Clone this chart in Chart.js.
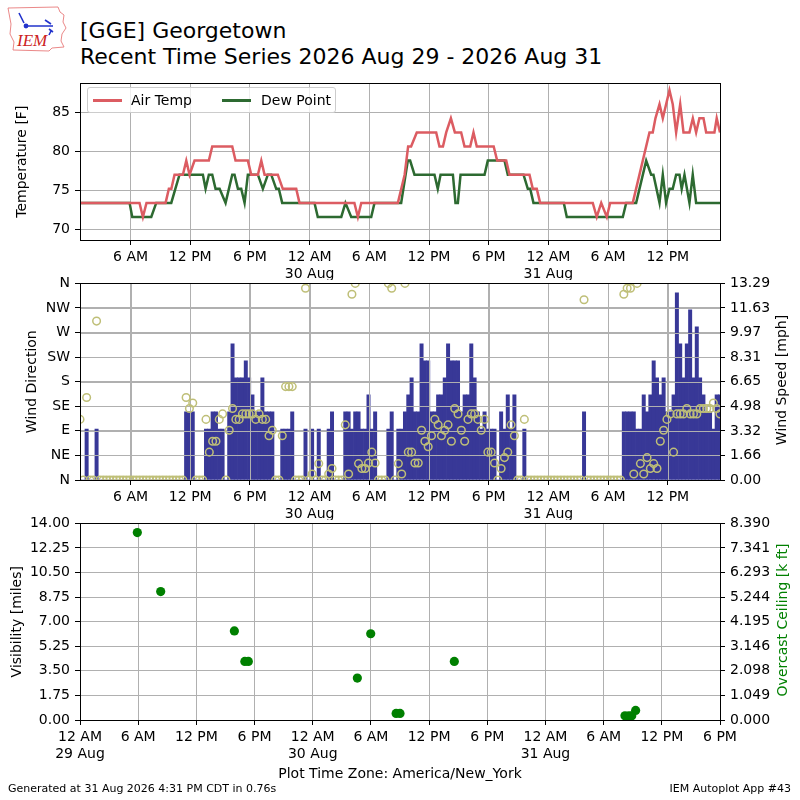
<!DOCTYPE html>
<html>
<head>
<meta charset="utf-8">
<title>[GGE] Georgetown - Recent Time Series</title>
<script src="https://cdn.jsdelivr.net/npm/chart.js@4.4.1/dist/chart.umd.min.js"></script>
<style>
  html, body { margin: 0; padding: 0; background: #fff; }
  #page { position: relative; width: 800px; height: 800px; overflow: hidden;
          font-family: 'DejaVu Sans', sans-serif; color: #000; }
  .panel { position: absolute; left: 0; width: 800px; }
  #title { position: absolute; left: 80px; top: 18px; font-size: 22px; line-height: 26px; white-space: nowrap; }
  #legend { position: absolute; left: 87px; top: 87px; width: 249px; height: 26px; box-sizing: border-box;
            border: 1px solid #cccccc; border-radius: 3px; background: rgba(255,255,255,0.8); font-size: 14px; }
  #legend .ln { position: absolute; top: 11px; width: 29px; height: 3px; }
  #legend .tx { position: absolute; top: 0; line-height: 24px; white-space: nowrap; }
  .rtitle { position: absolute; font-size: 14px; white-space: nowrap; transform: translate(-50%, -50%) rotate(-90deg); }
  .foot { position: absolute; top: 782px; font-size: 11px; line-height: 14px; white-space: nowrap; }
</style>
</head>
<body>
<div id="page">
  <svg style="position:absolute;left:5px;top:4px" width="64" height="50" viewBox="0 0 64 50">
    <path d="M3 4 L53 3 L55 8 L59 11 L58 18 L61 24 L57 30 L56 37 L59 43 L47 44 L44 47 L8 46 L9 38 L5 30 L6 20 Z"
          fill="none" stroke="#e87a7a" stroke-width="0.9"/>
    <path d="M14 9 L19 19 M19 22 L48 22 M40 16 L46 20 M44 25 L48 28 M46 27 L44 31" stroke="#2233cc" stroke-width="1.6" fill="none"/>
    <circle cx="21" cy="22" r="2.4" fill="#2233cc"/>
    <text x="12" y="42" font-family="Liberation Serif" font-style="italic" font-size="17" fill="#cc2222">IEM</text>
  </svg>
  <div id="title">[GGE] Georgetown<br>Recent Time Series 2026 Aug 29 - 2026 Aug 31</div>

  <div class="panel" style="top:70px;height:210px"><canvas id="tempChart"></canvas></div>
  <div class="panel" style="top:270px;height:250px"><canvas id="windChart"></canvas></div>
  <div class="panel" style="top:510px;height:290px"><canvas id="ceilChart"></canvas></div>

  <div id="legend">
    <span class="ln" style="left:5px;background:#dc5c62"></span><span class="tx" style="left:43px">Air Temp</span>
    <span class="ln" style="left:134px;background:#2d6a31"></span><span class="tx" style="left:173px">Dew Point</span>
  </div>
  <div class="rtitle" style="left:781px;top:380px">Wind Speed [mph]</div>
  <div class="rtitle" style="left:782px;top:620px;color:#008000">Overcast Ceiling [k ft]</div>

  <div class="foot" style="left:8px">Generated at 31 Aug 2026 4:31 PM CDT in 0.76s</div>
  <div class="foot" style="right:9px">IEM Autoplot App #43</div>
</div>

<script>
// Hours since 12 AM 29 Aug (America/New_York)

// Air temperature line vertices [F]
const tempHours = [
  0.92, 6.9, 7.24, 7.6, 9.52, 9.85, 10.1, 10.42, 11.26, 11.6, 11.93, 12.43, 13.87, 14.21, 16.22, 16.55, 17.79, 18.13, 18.8, 19.14, 19.47, 20.8, 21.3, 22.65, 22.98,
  28.5, 28.85, 29.19, 32.87, 33.55, 33.9, 34.2, 34.77, 36.72, 37.05, 37.4, 37.73, 38.2, 38.6, 39.23, 39.57, 40.14, 40.47, 40.8, 42.5, 42.85, 43.76, 44.09, 46.1, 46.43, 46.83, 47.17,
  52.46, 52.86, 53.31, 53.87, 54.21, 56.48, 58.16, 58.49, 58.76, 59.17, 59.5, 60.17, 60.5, 60.84, 61.25, 61.58, 62.18, 62.52, 62.85, 63.18, 63.59, 63.86, 64.69, 64.92, 65.25,
];
const tempF = [
  73.4, 73.4, 71.6, 73.4, 73.4, 75.2, 75.2, 77, 77, 78.8, 77, 78.8, 78.8, 80.6, 80.6, 78.8, 78.8, 77, 77, 78.8, 77, 77, 75.2, 75.2, 73.4,
  73.4, 71.6, 73.4, 73.4, 77, 80.6, 80.6, 82.4, 82.4, 80.6, 80.6, 82.4, 84.2, 82.4, 82.4, 80.6, 80.6, 82.4, 80.6, 80.6, 78.8, 78.8, 77, 77, 75.2, 75.2, 73.4,
  73.4, 71.6, 73.4, 71.6, 73.4, 73.4, 82.4, 82.4, 84.2, 86, 84.2, 87.8, 86, 82.4, 86, 82.4, 82.4, 84.2, 82.4, 84.2, 84.2, 82.4, 82.4, 84.2, 82.4,
];

// Dew point line vertices [F]
const dewHours = [
  0.92, 5.9, 6.17, 8.08, 8.58, 10.09, 10.5, 10.92, 13.27, 13.54, 13.87, 14.21, 14.54, 14.95, 15.55, 16.22, 16.45, 16.79, 17.12, 17.46, 17.79, 18.8, 19.3, 19.8, 20.14, 20.64, 20.9, 21.24,
  24.49, 24.82, 27.18, 27.6, 28.18, 30.19, 30.52, 33.2, 33.87, 34.1, 34.54, 36.55, 36.88, 37.16, 38.4, 38.66, 38.9, 39.17, 41.58, 41.91, 43.59, 43.92, 45.5, 45.93, 46.17, 46.5,
  49.55, 49.85, 55.48, 55.82, 56.82, 57.83, 58.33, 58.56, 59.17, 59.5, 59.83, 60.17, 60.5, 60.84, 61.18, 61.4, 61.68, 62.18, 62.51, 62.85, 65.25,
];
const dewF = [
  73.4, 73.4, 71.6, 71.6, 73.4, 73.4, 75.2, 77, 77, 75.2, 77, 77, 75.2, 75.2, 73.4, 77, 77, 75.2, 75.2, 73.4, 77, 77, 75.2, 77, 77, 75.2, 75.2, 73.4,
  73.4, 71.6, 71.6, 73.4, 71.6, 71.6, 73.4, 73.4, 78.8, 78.8, 77, 77, 75.2, 77, 77, 73.4, 73.4, 77, 77, 78.8, 78.8, 77, 77, 75.2, 75.2, 73.4,
  73.4, 71.6, 71.6, 73.4, 73.4, 78.8, 77, 77, 73.4, 77, 73.4, 75.2, 75.2, 77, 77, 75.2, 77, 73.4, 77, 73.4, 73.4,
];

// Wind obs every 20 minutes starting 00:55 29 Aug
const OBS_START = 0.9167;
const OBS_STEP = 1 / 3;
const windSpeedMph = [
  0, 0, 3.45, 0, 0, 3.45, 0, 0, 0, 0,
  0, 0, 0, 0, 0, 0, 0, 0, 0, 0,
  0, 0, 0, 0, 0, 0, 0, 0, 0, 0,
  0, 0, 4.6, 4.6, 4.6, 0, 0, 0, 3.45, 3.45,
  4.6, 4.6, 3.45, 3.45, 0, 4.6, 9.21, 6.9, 6.9, 6.9,
  8.06, 6.9, 5.75, 4.6, 4.6, 6.9, 4.6, 4.6, 4.6, 0,
  0, 3.45, 3.45, 3.45, 4.6, 0, 0, 0, 3.45, 0,
  3.45, 0, 3.45, 0, 0, 3.45, 4.6, 0, 0, 0,
  4.6, 4.6, 3.45, 4.6, 4.6, 3.45, 3.45, 5.75, 3.45, 4.6,
  0, 0, 0, 3.45, 4.6, 0, 3.45, 3.45, 4.6, 5.75,
  6.9, 4.6, 4.6, 9.21, 8.06, 8.06, 4.6, 4.6, 5.75, 5.75,
  6.9, 9.21, 8.06, 8.06, 8.06, 4.6, 5.75, 5.75, 9.21, 6.9,
  4.6, 3.45, 4.6, 3.45, 3.45, 3.45, 0, 4.6, 3.45, 5.75,
  3.45, 5.75, 0, 0, 3.45, 0, 0, 0, 0, 0,
  0, 0, 0, 0, 0, 0, 0, 0, 0, 0,
  0, 0, 4.6, 0, 0, 0, 0, 0, 0, 0,
  0, 0, 0, 0, 4.6, 4.6, 4.6, 4.6, 3.45, 3.45,
  5.75, 4.6, 5.75, 8.06, 6.9, 5.75, 6.9, 4.6, 4.6, 5.75,
  12.66, 9.21, 6.9, 9.21, 11.51, 6.9, 10.36, 6.9, 5.75, 4.6,
  4.6, 3.45, 5.75, 5.75,
];
const windDirDeg = [
  111, 0, 151, 0, 0, 291, 0, 0, 0, 0,
  0, 0, 0, 0, 0, 0, 0, 0, 0, 0,
  0, 0, 0, 0, 0, 0, 0, 0, 0, 0,
  0, 0, 151, 131, 141, 0, 0, 0, 111, 51,
  71, 71, 111, 121, 0, 91, 131, 111, 111, 121,
  121, 121, 121, 111, 121, 111, 111, 81, 91, 0,
  0, 81, 171, 171, 171, 0, 0, 0, 351, 0,
  11, 0, 30, 0, 0, 11, 21, 0, 0, 0,
  101, 11, 340, 360, 30, 21, 21, 31, 51, 31,
  0, 0, 0, 360, 351, 0, 30, 11, 360, 51,
  51, 31, 31, 91, 71, 61, 81, 111, 101, 81,
  91, 101, 71, 131, 121, 91, 71, 111, 121, 121,
  111, 91, 111, 51, 51, 31, 0, 21, 41, 51,
  101, 81, 0, 0, 111, 0, 0, 0, 0, 0,
  0, 0, 0, 0, 0, 0, 0, 0, 0, 0,
  0, 0, 330, 0, 0, 0, 0, 0, 0, 0,
  0, 0, 0, 0, 340, 351, 351, 11, 360, 30,
  11, 41, 21, 30, 21, 71, 91, 111, 121, 51,
  121, 121, 121, 131, 121, 121, 121, 131, 131, 131,
  131, 141, 131, 121,
];

// Overcast ceiling reports [k ft]
const ceilHours = [5.91, 8.32, 15.92, 17.0, 17.36, 28.6, 29.98, 32.6, 33.0, 38.6, 56.2, 56.6, 56.9, 57.3];
const ceilKft = [8.0, 5.48, 3.8, 2.5, 2.5, 1.79, 3.68, 0.28, 0.28, 2.5, 0.18, 0.18, 0.18, 0.41];

// Tick positions and labels
const timeTicksTop = [6, 12, 18, 24, 30, 36, 42, 48, 54, 60];
const timeTicksBottom = [0, 6, 12, 18, 24, 30, 36, 42, 48, 54, 60, 66];
const tempTicks = [70, 75, 80, 85];
const dirTickLabels = ['N', 'NE', 'E', 'SE', 'S', 'SW', 'W', 'NW', 'N'];
const speedTickLabels = ['0.00', '1.66', '3.32', '4.98', '6.65', '8.31', '9.97', '11.63', '13.29'];
const visTickLabels = ['0.00', '1.75', '3.50', '5.25', '7.00', '8.75', '10.50', '12.25', '14.00'];
const ceilTickLabels = ['0.000', '1.049', '2.098', '3.146', '4.195', '5.244', '6.293', '7.341', '8.390'];

const FONT = "'DejaVu Sans', sans-serif";
const GRID = '#b0b0b0';
const TEMP_COLOR = '#dc5c62';
const DEW_COLOR = '#2d6a31';
const BAR_COLOR = '#383897';
const DIR_COLOR = '#bfbf78';
const CEIL_COLOR = '#008000';

Chart.defaults.font.family = FONT;
Chart.defaults.font.size = 14;
Chart.defaults.color = '#000';

const tickFont = { family: FONT, size: 14 };
const obsEnd = OBS_START + (windSpeedMph.length - 1) * OBS_STEP;

function hourLabel(v) {
  const hr = Math.round(v);
  const h = ((hr % 24) + 24) % 24;
  let txt;
  if (h === 0) txt = '12 AM';
  else if (h < 12) txt = `${h} AM`;
  else if (h === 12) txt = '12 PM';
  else txt = `${h - 12} PM`;
  return h === 0 ? [txt, `${29 + hr / 24} Aug`] : txt;
}

function pairs(xs, ys) {
  return xs.map((x, i) => ({ x, y: ys[i] }));
}

// black frame round the plot area, like matplotlib spines
const framePlugin = {
  id: 'frame',
  afterDraw(chart) {
    const { ctx, chartArea: a } = chart;
    ctx.save();
    ctx.strokeStyle = '#000';
    ctx.lineWidth = 1;
    ctx.strokeRect(Math.floor(a.left) + 0.5, Math.floor(a.top) + 0.5,
      Math.round(a.right - a.left), Math.round(a.bottom - a.top));
    ctx.restore();
  },
};

// matplotlib draws its grid over bar patches
const gridOverBars = {
  id: 'gridOverBars',
  afterDatasetDraw(chart, args) {
    if (args.meta.type !== 'bar') return;
    const { ctx, chartArea: a, scales } = chart;
    ctx.save();
    ctx.strokeStyle = GRID;
    ctx.lineWidth = 1;
    ctx.beginPath();
    scales.x.ticks.forEach((t) => {
      const px = Math.round(scales.x.getPixelForValue(t.value)) + 0.5;
      ctx.moveTo(px, a.top);
      ctx.lineTo(px, a.bottom);
    });
    scales.yDir.ticks.forEach((t) => {
      const py = Math.round(scales.yDir.getPixelForValue(t.value)) + 0.5;
      ctx.moveTo(a.left, py);
      ctx.lineTo(a.right, py);
    });
    ctx.stroke();
    ctx.restore();
  },
};

function timeAxis(min, max, ticks, height, title) {
  return {
    type: 'linear',
    min,
    max,
    offset: false,
    afterBuildTicks: (s) => { s.ticks = ticks.map((v) => ({ value: v })); },
    afterFit: (s) => { s.height = height; },
    ticks: {
      autoSkip: false, maxRotation: 0, minRotation: 0, padding: 4,
      color: '#000', font: tickFont, callback: (v) => hourLabel(v),
    },
    grid: { color: GRID, lineWidth: 1, tickColor: '#000', tickLength: 5, offset: false },
    border: { display: false },
    title: title
      ? { display: true, text: title, color: '#000', font: tickFont, padding: { top: 0, bottom: 17 } }
      : { display: false },
  };
}

function valueAxis({ position, min, max, values, labels, title, titlePad, grid = true }) {
  return {
    type: 'linear',
    position,
    min,
    max,
    afterBuildTicks: (s) => { s.ticks = values.map((v) => ({ value: v })); },
    afterFit: (s) => { s.width = 80; },
    ticks: {
      autoSkip: false, padding: 5, color: '#000', font: tickFont,
      callback: (v, i) => labels[i],
    },
    grid: { color: GRID, lineWidth: 1, tickColor: '#000', tickLength: 5, drawOnChartArea: grid },
    border: { display: false },
    title: title
      ? { display: true, text: title, color: '#000', font: tickFont, padding: { top: titlePad, bottom: 0 } }
      : { display: false },
  };
}

const baseOptions = {
  responsive: true,
  maintainAspectRatio: false,
  animation: false,
  events: [],
  plugins: { legend: { display: false }, tooltip: { enabled: false } },
};

// Temperature panel
new Chart(document.getElementById('tempChart'), {
  type: 'line',
  data: {
    datasets: [
      {
        label: 'Air Temp', data: pairs(tempHours, tempF), borderColor: TEMP_COLOR,
        borderWidth: 2.5, pointRadius: 0, tension: 0,
      },
      {
        label: 'Dew Point', data: pairs(dewHours, dewF), borderColor: DEW_COLOR,
        borderWidth: 2.5, pointRadius: 0, tension: 0,
      },
    ],
  },
  options: {
    ...baseOptions,
    layout: { padding: { top: 10, right: 80, left: 0, bottom: 0 } },
    scales: {
      x: timeAxis(OBS_START, obsEnd, timeTicksTop, 40),
      y: valueAxis({
        position: 'left', min: 68.66, max: 88.66, values: tempTicks,
        labels: tempTicks.map(String), title: 'Temperature [F]', titlePad: 14,
      }),
    },
  },
  plugins: [framePlugin],
});

// Wind panel
const obsHours = windSpeedMph.map((_, i) => OBS_START + i * OBS_STEP);
new Chart(document.getElementById('windChart'), {
  type: 'bar',
  data: {
    datasets: [
      {
        type: 'scatter', label: 'Wind Direction', data: pairs(obsHours, windDirDeg), yAxisID: 'yDir',
        order: 0, pointRadius: 3.8, pointBorderWidth: 1.5, pointBorderColor: DIR_COLOR,
        pointBackgroundColor: 'rgba(0,0,0,0)', showLine: false,
      },
      {
        type: 'bar', label: 'Wind Speed', data: pairs(obsHours, windSpeedMph), yAxisID: 'ySpeed',
        order: 1, backgroundColor: BAR_COLOR, borderWidth: 0, barPercentage: 1, categoryPercentage: 1,
      },
    ],
  },
  options: {
    ...baseOptions,
    layout: { padding: { top: 10, right: 0, left: 0, bottom: 0 } },
    scales: {
      x: timeAxis(OBS_START, obsEnd, timeTicksTop, 40),
      yDir: valueAxis({
        position: 'left', min: 0, max: 360, values: dirTickLabels.map((_, i) => i * 45),
        labels: dirTickLabels, title: 'Wind Direction', titlePad: 24,
      }),
      ySpeed: valueAxis({
        position: 'right', min: 0, max: 13.29, values: speedTickLabels.map(Number),
        labels: speedTickLabels, grid: false,
      }),
    },
  },
  plugins: [gridOverBars, framePlugin],
});

// Visibility / ceiling panel
new Chart(document.getElementById('ceilChart'), {
  type: 'scatter',
  data: {
    datasets: [
      {
        label: 'Overcast Ceiling', data: pairs(ceilHours, ceilKft), yAxisID: 'yCeil',
        pointRadius: 4.6, pointBorderWidth: 0, pointBackgroundColor: CEIL_COLOR, pointBorderColor: CEIL_COLOR,
      },
    ],
  },
  options: {
    ...baseOptions,
    layout: { padding: { top: 10, right: 0, left: 0, bottom: 0 } },
    scales: {
      x: timeAxis(0, 66, timeTicksBottom, 80, 'Plot Time Zone: America/New_York'),
      yVis: valueAxis({
        position: 'left', min: 0, max: 14, values: visTickLabels.map(Number),
        labels: visTickLabels, title: 'Visibility [miles]', titlePad: 9,
      }),
      yCeil: valueAxis({
        position: 'right', min: 0, max: 8.39, values: ceilTickLabels.map(Number),
        labels: ceilTickLabels, grid: false,
      }),
    },
  },
  plugins: [framePlugin],
});
</script>
</body>
</html>
